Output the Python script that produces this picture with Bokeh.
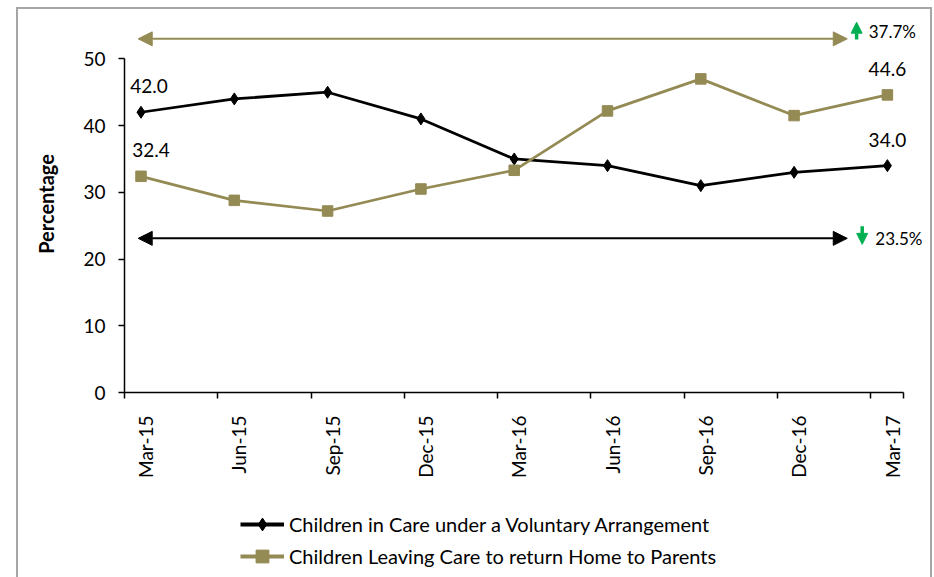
import math

from bokeh.plotting import figure
from bokeh.layouts import column
from bokeh.core.properties import value
from bokeh.models import (Range1d, LinearAxis, FixedTicker, CustomJSTickFormatter, Arrow,
                          NormalHead, Label, LabelSet, ColumnDataSource, Legend, LegendItem)
from bokeh.embed import file_html
from bokeh.resources import INLINE

# ---- data -------------------------------------------------------------
quarters = ["Mar-15", "Jun-15", "Sep-15", "Dec-15", "Mar-16",
            "Jun-16", "Sep-16", "Dec-16", "Mar-17"]
voluntary = [42.0, 44.0, 45.0, 41.0, 35.0, 34.0, 31.0, 33.0, 34.0]
returned_home = [32.4, 28.8, 27.2, 30.5, 33.3, 42.2, 47.0, 41.5, 44.6]
y_ticks = [0, 10, 20, 30, 40, 50]

series_names = ["Children in Care under a Voluntary Arrangement",
                "Children Leaving Care to return Home to Parents"]

# ---- styling ----------------------------------------------------------
FONT = "Lato"
BLACK = "#000000"
OLIVE = "#948A54"
GREEN = "#00B050"

xs = list(range(len(quarters)))
x_lo, x_hi = -0.177, 8.172      # extent of the category axis line
x_view_hi = 8.462               # frame runs on to the right edge for the % notes


def series_renderers(fig, lw=2.75):
    l1 = fig.line(xs, voluntary, line_color=BLACK, line_width=lw)
    m1 = fig.scatter(xs, voluntary, marker="diamond", size=12,
                     fill_color=BLACK, line_color=BLACK)
    l2 = fig.line(xs, returned_home, line_color=OLIVE, line_width=lw)
    m2 = fig.scatter(xs, returned_home, marker="square", size=10.5,
                     fill_color=OLIVE, line_color=OLIVE)
    return (l1, m1), (l2, m2)


p = figure(width=912, height=478, output_backend="svg", toolbar_location=None,
           x_range=Range1d(x_lo, x_view_hi), y_range=Range1d(0, 56.5),
           min_border_left=106, min_border_right=0, min_border_top=6,
           min_border_bottom=95)
p.outline_line_color = None
p.grid.visible = False
p.background_fill_color = "white"
p.border_fill_color = "white"

# y axis
ya = p.yaxis[0]
ya.ticker = FixedTicker(ticks=y_ticks)
ya.bounds = (0, 50)
ya.axis_line_color = BLACK
ya.axis_line_width = 1.5
ya.major_tick_line_color = BLACK
ya.major_tick_line_width = 1.5
ya.major_tick_out = 6
ya.major_tick_in = 0
ya.minor_tick_out = 0
ya.minor_tick_in = 0
ya.major_label_text_font = FONT
ya.major_label_text_font_size = "19px"
ya.major_label_text_color = BLACK
ya.major_label_standoff = 13
ya.axis_label = "Percentage"
ya.axis_label_text_font = FONT
ya.axis_label_text_font_style = "bold"
ya.axis_label_text_font_size = "20px"
ya.axis_label_text_color = BLACK
ya.axis_label_standoff = 22

# x axis: tick marks sit between the quarter positions
xa = p.xaxis[0]
xa.ticker = FixedTicker(ticks=[i + x_lo for i in xs] + [x_hi])
xa.formatter = CustomJSTickFormatter(code="return ''")
xa.bounds = (x_lo, x_hi)
xa.axis_line_color = BLACK
xa.axis_line_width = 1.5
xa.major_tick_line_color = BLACK
xa.major_tick_line_width = 1.5
xa.major_tick_out = 6
xa.major_tick_in = 0
xa.minor_tick_out = 0
xa.minor_tick_in = 0
xa.major_label_standoff = 0

# x axis labels, one per quarter, rotated
xl = LinearAxis(ticker=FixedTicker(ticks=[i + 0.05 for i in xs]),
                formatter=CustomJSTickFormatter(args=dict(labels=quarters),
                                                code="return labels[Math.round(tick)] || ''"))
xl.axis_line_color = None
xl.major_tick_out = 0
xl.major_tick_in = 0
xl.minor_tick_out = 0
xl.minor_tick_in = 0
xl.major_label_orientation = math.pi / 2
xl.major_label_text_font = FONT
xl.major_label_text_font_size = "19px"
xl.major_label_text_color = BLACK
xl.major_label_standoff = 17
p.add_layout(xl, "below")

# ---- series -----------------------------------------------------------
series_renderers(p)

# first / last values labelled
lab_src = ColumnDataSource(dict(
    x=[xs[0], xs[-1], xs[0], xs[-1]],
    y=[voluntary[0], voluntary[-1], returned_home[0], returned_home[-1]],
    text=[f"{v:.1f}" for v in (voluntary[0], voluntary[-1], returned_home[0], returned_home[-1])],
    dx=[8, 0, 10, 0],
))
p.add_layout(LabelSet(source=lab_src, x="x", y="y", text="text", x_offset="dx", y_offset=26,
                      text_align="center", text_baseline="middle", text_font=value(FONT),
                      text_font_size=value("19px"), text_color=BLACK))

# ---- change arrows ----------------------------------------------------
up_pct = (returned_home[-1] / returned_home[0] - 1) * 100
down_pct = (voluntary[0] - voluntary[-1]) / voluntary[-1] * 100

for yy, col in ((53.0, OLIVE), (23.1, BLACK)):
    p.add_layout(Arrow(start=NormalHead(size=14, fill_color=col, line_color=col),
                       end=NormalHead(size=14, fill_color=col, line_color=col),
                       x_start=-0.03, y_start=yy, x_end=7.57, y_end=yy,
                       line_color=col, line_width=2))

p.add_layout(Arrow(end=NormalHead(size=11, fill_color=GREEN, line_color=GREEN),
                   x_start=7.67, y_start=52.9, x_end=7.67, y_end=55.5,
                   line_color=GREEN, line_width=3.5))
p.add_layout(Arrow(end=NormalHead(size=11, fill_color=GREEN, line_color=GREEN),
                   x_start=7.73, y_start=24.9, x_end=7.73, y_end=22.2,
                   line_color=GREEN, line_width=3.5))

p.add_layout(Label(x=7.80, y=54.05, text=f"{up_pct:.1f}%", text_baseline="middle",
                   text_font=FONT, text_font_size="17px", text_color=BLACK))
p.add_layout(Label(x=7.87, y=23.1, text=f"{down_pct:.1f}%", text_baseline="middle",
                   text_font=FONT, text_font_size="17px", text_color=BLACK))

# ---- legend strip under the chart ---------------------------------------
# the series are re-used here only as legend keys; the view window keeps them off-canvas
lg = figure(width=912, height=100, output_backend="svg", toolbar_location=None,
            x_range=Range1d(100, 101), y_range=Range1d(100, 101),
            x_axis_location=None, y_axis_location=None,
            min_border=0, min_border_left=0, min_border_right=0,
            min_border_top=0, min_border_bottom=0)
lg.outline_line_color = None
lg.grid.visible = False
lg.background_fill_color = "white"
lg.border_fill_color = "white"
(k1, k2) = series_renderers(lg, lw=4)

legend = Legend(items=[LegendItem(label=series_names[0], renderers=list(k1)),
                       LegendItem(label=series_names[1], renderers=list(k2))],
                location=(116, 15), orientation="vertical",
                glyph_width=44, glyph_height=32, spacing=0, padding=0, margin=0,
                label_standoff=5, label_text_font=FONT, label_text_font_size="20px",
                label_text_color=BLACK, border_line_color=None, background_fill_alpha=0)
lg.add_layout(legend, "center")

page = column(p, lg, spacing=0,
              styles={"margin-left": "16px", "margin-top": "7px",
                      "border": "2px solid #a6a6a6"})

open("out.html", "w").write(file_html(page, INLINE))
